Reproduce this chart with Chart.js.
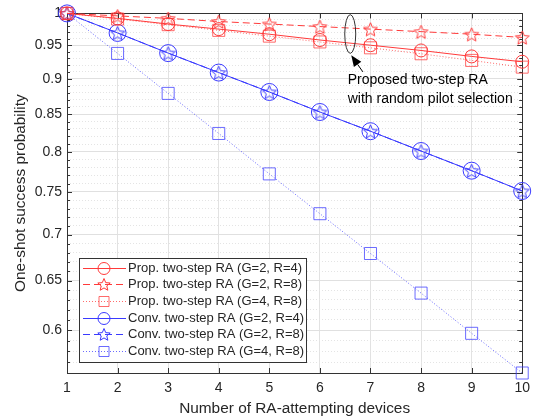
<!DOCTYPE html>
<html>
<head>
<meta charset="utf-8">
<script src="https://cdn.jsdelivr.net/npm/chart.js@4.4.1/dist/chart.umd.min.js"></script>
<style>
  html, body { margin: 0; padding: 0; background: #fff; }
</style>
</head>
<body>
<canvas id="mychart" width="537" height="418"></canvas>
<script>
'use strict'

// x軸: 端末数
const devices = [1, 2, 3, 4, 5, 6, 7, 8, 9, 10];

// 各系列の成功確率
const propG2R4 = [1, 0.992, 0.983, 0.975, 0.967, 0.958, 0.950, 0.942, 0.933, 0.925];
const propG2R8 = [1, 0.996, 0.992, 0.987, 0.983, 0.979, 0.975, 0.971, 0.967, 0.962];
const propG4R8 = [1, 0.991, 0.982, 0.973, 0.964, 0.955, 0.946, 0.937, 0.927, 0.917];
const convG2R4 = [1, 0.969, 0.938, 0.909, 0.881, 0.853, 0.827, 0.801, 0.776, 0.751];
const convG2R8 = [1, 0.969, 0.938, 0.909, 0.881, 0.853, 0.827, 0.801, 0.776, 0.751];
const convG4R8 = [1, 0.9375, 0.879, 0.824, 0.772, 0.724, 0.679, 0.637, 0.597, 0.56];

const seriesLabels = [
  'Prop. two-step RA (G=2, R=4)',
  'Prop. two-step RA (G=2, R=8)',
  'Prop. two-step RA (G=4, R=8)',
  'Conv. two-step RA (G=2, R=4)',
  'Conv. two-step RA (G=2, R=8)',
  'Conv. two-step RA (G=4, R=8)',
];

// y軸の目盛り (0.01刻み, 0.05ごとにラベル)
const yTickValues = [];
for (let k = 56; k <= 100; k++) yTickValues.push(k / 100);

const annoLines = ['Proposed two-step RA', 'with random pilot selection'];

const RED = '#ff3a3a';
const BLUE = '#3a3aff';
const TXT = '#262626';
const FONT = "'Liberation Sans', Arial, sans-serif";

const isMajor = (v) => Math.round(v * 100) % 5 === 0;
const toPoints = (arr) => arr.map((v, i) => ({ x: devices[i], y: v }));

// 五芒星のパス
function starPath(c, cx, cy, R) {
  const r = R * 0.45;
  c.beginPath();
  for (let k = 0; k < 10; k++) {
    const rad = k % 2 === 0 ? R : r;
    const a = -Math.PI / 2 + k * Math.PI / 5;
    const px = cx + rad * Math.cos(a), py = cy + rad * Math.sin(a);
    if (k === 0) c.moveTo(px, py); else c.lineTo(px, py);
  }
  c.closePath();
}

function makeStar(color, R) {
  const cv = document.createElement('canvas');
  const s = Math.ceil(R * 2 + 4);
  cv.width = s; cv.height = s;
  const c = cv.getContext('2d');
  c.strokeStyle = color;
  c.lineWidth = 1;
  starPath(c, s / 2, s / 2 + 0.8, R);
  c.stroke();
  return cv;
}

function makeSet(label, data, color, dash, style, radius) {
  return {
    label: label,
    data: toPoints(data),
    borderColor: color,
    borderWidth: 1,
    borderDash: dash,
    pointStyle: style,
    pointRadius: radius,
    pointBorderColor: color,
    pointBorderWidth: 1,
    pointBackgroundColor: 'rgba(0,0,0,0)',
    clip: false,
    tension: 0,
  };
}

// 枠線と内向きの目盛り
const boxPlugin = {
  id: 'box',
  beforeDatasetsDraw(chart) {
    const c = chart.ctx;
    const { left, right, top, bottom } = chart.chartArea;
    const xs = chart.scales.x, ys = chart.scales.y;
    c.save();
    c.strokeStyle = '#333';
    c.lineWidth = 1;
    c.beginPath();
    xs.ticks.forEach((t) => {
      const px = Math.round(xs.getPixelForValue(t.value)) + 0.5;
      c.moveTo(px, bottom); c.lineTo(px, bottom - 5);
      c.moveTo(px, top); c.lineTo(px, top + 5);
    });
    ys.ticks.forEach((t) => {
      const py = Math.round(ys.getPixelForValue(t.value)) + 0.5;
      const len = isMajor(t.value) ? 5 : 3;
      c.moveTo(left, py); c.lineTo(left + len, py);
      c.moveTo(right, py); c.lineTo(right - len, py);
    });
    c.stroke();
    c.strokeRect(Math.round(left) + 0.5, Math.round(top) + 0.5, Math.round(right - left), Math.round(bottom - top));
    c.restore();
  },
};

// 注釈 (楕円・矢印・テキスト)
const notePlugin = {
  id: 'note',
  afterDatasetsDraw(chart) {
    const c = chart.ctx;
    const xs = chart.scales.x, ys = chart.scales.y;
    c.save();
    // 楕円
    const ex = xs.getPixelForValue(6.6);
    const eTop = ys.getPixelForValue(0.998);
    const eBot = ys.getPixelForValue(0.9376);
    c.strokeStyle = '#333';
    c.lineWidth = 1;
    c.beginPath();
    c.ellipse(ex, (eTop + eBot) / 2, 5.5, (eBot - eTop) / 2, 0, 0, Math.PI * 2);
    c.stroke();
    // 矢印
    const tx = xs.getPixelForValue(6.62), ty = ys.getPixelForValue(0.9346);
    const sx = xs.getPixelForValue(6.85), sy = ys.getPixelForValue(0.91);
    const ang = Math.atan2(ty - sy, tx - sx);
    const hl = 11, hw = 4.5;
    const bx = tx - hl * Math.cos(ang), by = ty - hl * Math.sin(ang);
    c.strokeStyle = '#000';
    c.beginPath();
    c.moveTo(sx, sy); c.lineTo(bx, by);
    c.stroke();
    c.fillStyle = '#000';
    c.beginPath();
    c.moveTo(tx, ty);
    c.lineTo(bx + hw * Math.sin(ang), by - hw * Math.cos(ang));
    c.lineTo(bx - hw * Math.sin(ang), by + hw * Math.cos(ang));
    c.closePath();
    c.fill();
    // テキスト
    c.fillStyle = '#000';
    c.font = '14px ' + FONT;
    c.textBaseline = 'middle';
    c.textAlign = 'left';
    const txX = xs.getPixelForValue(6.55);
    c.fillText(annoLines[0], txX, ys.getPixelForValue(0.8977));
    c.fillText(annoLines[1], txX, ys.getPixelForValue(0.8706));
    c.restore();
  },
};

// グラフ内の凡例
const legendPlugin = {
  id: 'insideLegend',
  afterDraw(chart) {
    const c = chart.ctx;
    const area = chart.chartArea;
    const bx = area.left + 12, bw = 227, bh = 104;
    const by = area.bottom - 11 - bh;
    c.save();
    c.fillStyle = '#fff';
    c.fillRect(bx, by, bw, bh);
    c.strokeStyle = '#333';
    c.lineWidth = 1;
    c.strokeRect(Math.round(bx) + 0.5, Math.round(by) + 0.5, bw, bh);
    c.font = '13px ' + FONT;
    c.textBaseline = 'middle';
    c.textAlign = 'left';
    chart.data.datasets.forEach((ds, i) => {
      const cy = Math.round(by + 9.5 + i * 16.7) + 0.5;
      c.strokeStyle = ds.borderColor;
      c.setLineDash(ds.borderDash);
      c.beginPath();
      c.moveTo(bx + 4, cy); c.lineTo(bx + 47, cy);
      c.stroke();
      c.setLineDash([]);
      const mx = bx + 25;
      c.beginPath();
      if (ds.pointStyle === 'circle') {
        c.arc(mx, cy, 6, 0, Math.PI * 2);
      } else if (ds.pointStyle === 'rect') {
        c.rect(mx - 5, cy - 5, 10, 10);
      } else {
        starPath(c, mx, cy + 0.5, 6.5);
      }
      c.stroke();
      c.fillStyle = TXT;
      c.fillText(ds.label, bx + 49, cy);
    });
    c.restore();
  },
};

const ctx = document.getElementById('mychart');

const myChart = new Chart(ctx, {
  type: 'line',
  data: {
    datasets: [
      makeSet(seriesLabels[0], propG2R4, RED, [], 'circle', 6.5),
      makeSet(seriesLabels[1], propG2R8, RED, [7, 4], makeStar(RED, 7.3), 8),
      makeSet(seriesLabels[2], propG4R8, 'rgba(255,58,58,0.75)', [1, 2], 'rect', 8.5),
      makeSet(seriesLabels[3], convG2R4, BLUE, [], 'circle', 8.5),
      makeSet(seriesLabels[4], convG2R8, BLUE, [7, 4], makeStar(BLUE, 7.3), 8),
      makeSet(seriesLabels[5], convG4R8, 'rgba(58,58,255,0.75)', [1, 2], 'rect', 8.5),
    ],
  },
  options: {
    responsive: false,
    animation: false,
    layout: { padding: { left: 0, right: 12, top: 13, bottom: 0 } },
    plugins: {
      legend: { display: false },
      tooltip: { enabled: false },
    },
    scales: {
      x: {
        type: 'linear',
        min: 1,
        max: 10,
        ticks: { stepSize: 1, padding: 7, color: TXT, font: { family: FONT, size: 14 } },
        grid: { color: '#e2e2e2', drawTicks: false },
        border: { display: false },
        title: {
          display: true,
          text: 'Number of RA-attempting devices',
          color: TXT,
          font: { family: FONT, size: 15.4 },
          padding: { top: 0, bottom: 0.5 },
        },
        afterFit: (s) => { s.height = 45; },
      },
      y: {
        type: 'logarithmic',
        min: 0.56,
        max: 1,
        afterBuildTicks: (s) => {
          s.ticks = yTickValues.map((v) => ({ value: v, major: isMajor(v) }));
        },
        ticks: {
          autoSkip: false,
          padding: 5,
          color: TXT,
          font: { family: FONT, size: 14 },
          callback: (v) => (isMajor(v) ? String(Math.round(v * 100) / 100) : ''),
        },
        grid: {
          drawTicks: false,
          color: (c) => (c.tick && isMajor(c.tick.value) ? '#e0e0e0' : '#e4e4e4'),
        },
        border: {
          display: false,
          dash: (c) => (c.tick && !isMajor(c.tick.value) ? [1, 2] : []),
        },
        title: {
          display: true,
          text: 'One-shot success probability',
          color: TXT,
          font: { family: FONT, size: 15.4 },
          padding: { top: 11.5, bottom: 0 },
        },
        afterFit: (s) => { s.width = 67; },
      },
    },
  },
  plugins: [boxPlugin, notePlugin, legendPlugin],
});
</script>
</body>
</html>
